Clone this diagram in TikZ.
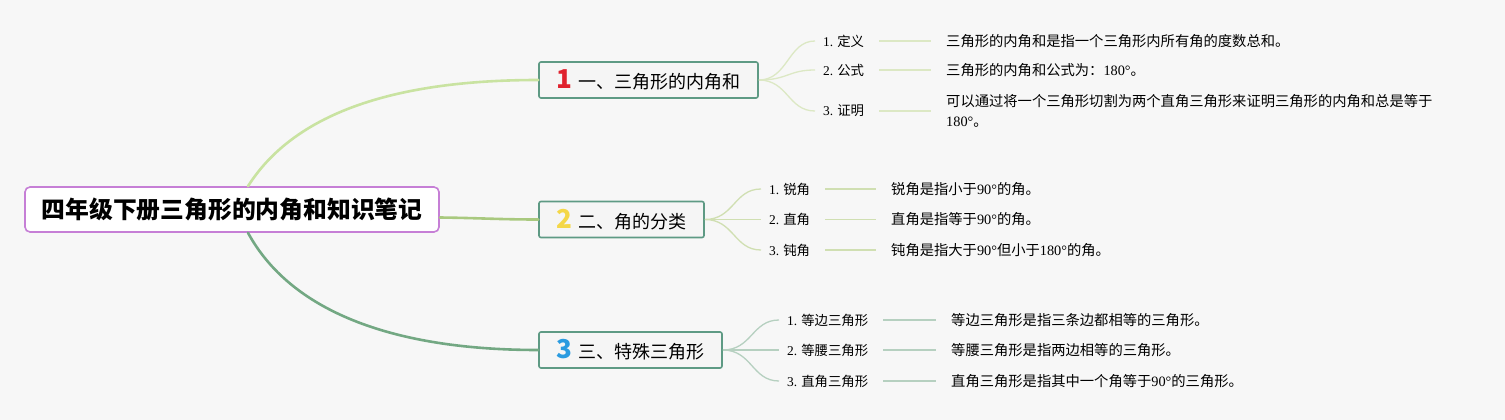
\documentclass[tikz,border=0pt]{standalone}
\usepackage{fontspec}
\setmainfont{Noto Sans CJK SC}
\newfontfamily\numfont{Liberation Serif}
\usetikzlibrary{positioning}

\definecolor{bgcol}{HTML}{F7F7F7}
\definecolor{rootline}{HTML}{C67FD6}
\definecolor{topicline}{HTML}{5E9A84}
\definecolor{topicfill}{HTML}{F5F5F5}
\definecolor{branchA}{HTML}{C9E3A1}
\definecolor{branchB}{HTML}{A9C97F}
\definecolor{branchC}{HTML}{73A883}
\definecolor{leafA}{HTML}{DCE8C4}
\definecolor{leafB}{HTML}{D0DFB2}
\definecolor{leafC}{HTML}{B6D0C0}
\definecolor{numred}{HTML}{E0222E}
\definecolor{numyellow}{HTML}{F4D748}
\definecolor{numblue}{HTML}{2A9BE0}

\newcommand\badgefont{\fontsize{26}{26}\selectfont\bfseries}

\tikzset{
  rootbox/.style={draw=rootline, line width=1.6pt, rounded corners=5pt, fill=white,
    minimum width=414pt, minimum height=45pt, font=\fontsize{23.8}{23.8}\selectfont\bfseries},
  topicbox/.style={draw=topicline, line width=1.6pt, rounded corners=2pt, fill=topicfill,
    minimum height=36pt, font=\fontsize{18}{18}\selectfont},
  leaflabel/.style={anchor=west, inner sep=0pt, font=\fontsize{13.4}{13.4}\selectfont},
  leaftext/.style={anchor=west, inner sep=0pt, align=left,
    font=\fontsize{14.3}{20}\selectfont},
  branch/.style={line width=2.6pt, line cap=round},
  twig/.style={line width=1.3pt}
}

\begin{document}
\begin{tikzpicture}[x=1pt, y=-1pt]
    \fill[bgcol] (0,0) rectangle (1505,420);
    \useasboundingbox (0,0) rectangle (1505,420);

    % main topic and the three branches
    \node[rootbox] (root) at (232,209.5) {四年级下册三角形的内角和知识笔记};
    \node[topicbox, minimum width=219pt] (t1) at (648.5,80)
        {{\color{numred}\badgefont 1}\hspace{6pt}一、三角形的内角和};
    \node[topicbox, minimum width=165pt] (t2) at (621.5,219.5)
        {{\color{numyellow}\badgefont 2}\hspace{6pt}二、角的分类};
    \node[topicbox, minimum width=183pt] (t3) at (630.5,350)
        {{\color{numblue}\badgefont 3}\hspace{6pt}三、特殊三角形};

    \draw[branch, branchA] ([xshift=16pt]root.north)
        .. controls (290,120) and (380,80) .. (t1.west);
    \draw[branch, branchB] ([yshift=-8pt]root.east)
        .. controls (480,218) and (500,219.5) .. (t2.west);
    \draw[branch, branchC] ([xshift=16pt]root.south)
        .. controls (290,310) and (390,350) .. (t3.west);

    % 1: inner angle sum
    \foreach \i/\y/\lab/\txt in {
        1/41/{{\numfont 1.} 定义}/{三角形的内角和是指一个三角形内所有角的度数总和。},
        2/70/{{\numfont 2.} 公式}/{三角形的内角和公式为：{\numfont 180°}。},
        3/111/{{\numfont 3.} 证明}/{可以通过将一个三角形切割为两个直角三角形来证明三角形的内角和总是等于\\{\numfont 180°}。}} {
        \node[leaflabel] (s1\i) at (823,\y) {\lab};
        \node[leaftext] (d1\i) at (946,\y) {\txt};
        \draw[twig, leafA] (t1.east) .. controls (788,80) and (788,\y) .. ([xshift=-8pt]s1\i.west);
        \draw[twig, leafA] ([xshift=15pt]s1\i.east) -- ([xshift=-15pt]d1\i.west);
    }

    % 2: kinds of angles
    \foreach \i/\y/\lab/\txt in {
        1/189/{{\numfont 1.} 锐角}/{锐角是指小于{\numfont 90°}的角。},
        2/219.5/{{\numfont 2.} 直角}/{直角是指等于{\numfont 90°}的角。},
        3/250/{{\numfont 3.} 钝角}/{钝角是指大于{\numfont 90°}但小于{\numfont 180°}的角。}} {
        \node[leaflabel] (s2\i) at (769,\y) {\lab};
        \node[leaftext] (d2\i) at (891,\y) {\txt};
        \draw[twig, leafB] (t2.east) .. controls (734,219.5) and (734,\y) .. ([xshift=-8pt]s2\i.west);
        \draw[twig, leafB] ([xshift=15pt]s2\i.east) -- ([xshift=-15pt]d2\i.west);
    }

    % 3: special triangles
    \foreach \i/\y/\lab/\txt in {
        1/320/{{\numfont 1.} 等边三角形}/{等边三角形是指三条边都相等的三角形。},
        2/350/{{\numfont 2.} 等腰三角形}/{等腰三角形是指两边相等的三角形。},
        3/381/{{\numfont 3.} 直角三角形}/{直角三角形是指其中一个角等于{\numfont 90°}的三角形。}} {
        \node[leaflabel] (s3\i) at (787,\y) {\lab};
        \node[leaftext] (d3\i) at (951,\y) {\txt};
        \draw[twig, leafC] (t3.east) .. controls (752,350) and (752,\y) .. ([xshift=-8pt]s3\i.west);
        \draw[twig, leafC] ([xshift=15pt]s3\i.east) -- ([xshift=-15pt]d3\i.west);
    }
\end{tikzpicture}
\end{document}
